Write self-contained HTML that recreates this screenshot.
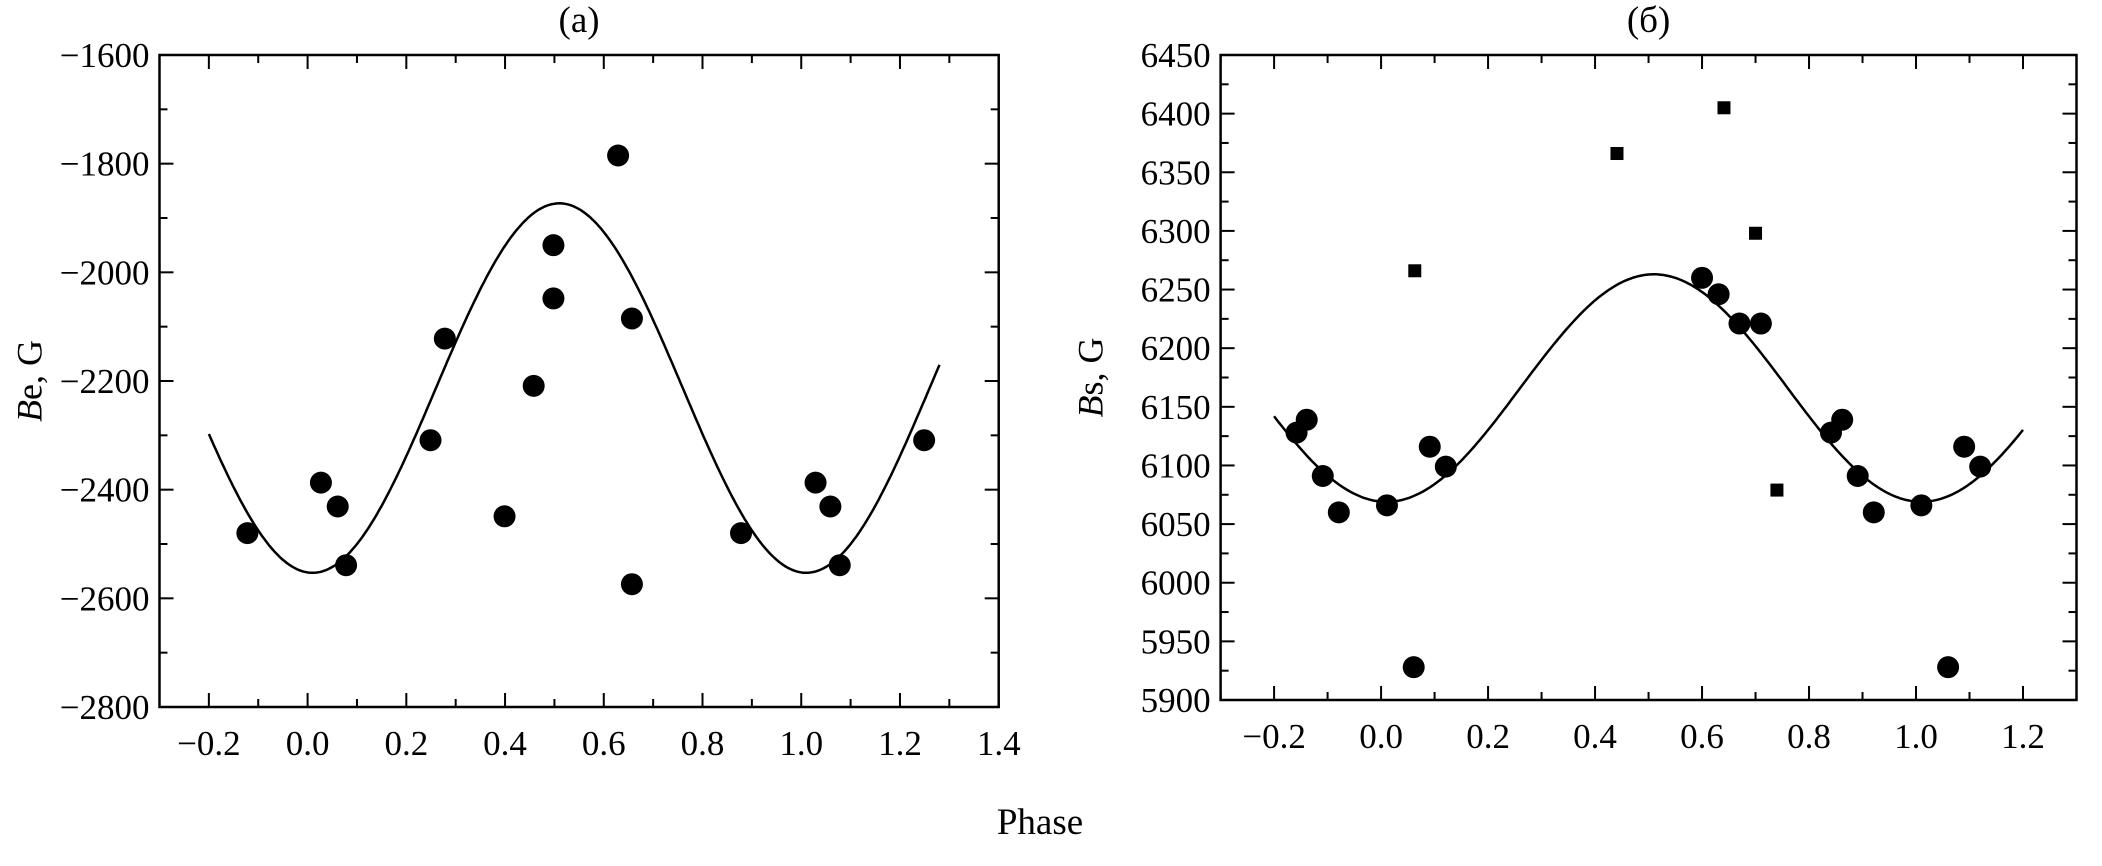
<!DOCTYPE html>
<html><head><meta charset="utf-8"><style>
body{margin:0;background:#fff;}
svg text{font-family:"Liberation Serif",serif;fill:#000;}
</style></head><body>
<svg id="fig" width="2102" height="861" viewBox="0 0 2102 861" xmlns="http://www.w3.org/2000/svg">
<text x="1040" y="834" font-size="37" text-anchor="middle">Phase</text>
</svg>
<script>
// Panel (a) data
const aPhase = [-0.122,0.027,0.061,0.078,0.249,0.278,0.399,0.458,0.498,0.498,0.629,0.657,0.657,0.878,1.029,1.059,1.078,1.249];
const aBe = [-2480,-2387,-2431,-2539,-2309,-2122,-2449,-2209,-1950,-2048,-1785,-2085,-2574,-2480,-2387,-2431,-2539,-2309];
const aFit = [-2213, 340, 0.01]; // mean, amplitude, phase of minimum
const aXTicks = [-0.2,0.0,0.2,0.4,0.6,0.8,1.0,1.2,1.4];
const aYTicks = [-1600,-1800,-2000,-2200,-2400,-2600,-2800];
// Panel (b) data
const bPhase = [-0.158,-0.139,-0.109,-0.079,0.011,0.061,0.091,0.121,0.600,0.631,0.670,0.710,0.841,0.862,0.891,0.921,1.010,1.060,1.090,1.120];
const bBs = [6128,6139,6091,6060,6066,5928,6116,6099,6260,6246,6221,6221,6128,6139,6091,6060,6066,5928,6116,6099];
const bSqPhase = [0.063,0.441,0.641,0.700,0.740];
const bSqBs = [6266,6366,6405,6298,6079];
const bFit = [6166, 97, 0.01];
const bXTicks = [-0.2,0.0,0.2,0.4,0.6,0.8,1.0,1.2];
const bYTicks = [6450,6400,6350,6300,6250,6200,6150,6100,6050,6000,5950,5900];

const NS="http://www.w3.org/2000/svg";
const svg=document.getElementById('fig');
function mk(tag,attrs,parent){const e=document.createElementNS(NS,tag);for(const k in attrs)e.setAttribute(k,attrs[k]);(parent||svg).appendChild(e);return e;}

function panel(o){
  const g=mk('g',{});
  
  
  const sx=v=>o.L+(v-o.x0)/(o.x1-o.x0)*(o.R-o.L);
  const sy=v=>o.B-(v-o.y0)/(o.y1-o.y0)*(o.B-o.T);
  const fr=mk('rect',{x:o.L,y:o.T,width:o.R-o.L,height:o.B-o.T,fill:'none',stroke:'#000','stroke-width':2.5},g);
  
  
  const t=mk('text',{x:(o.L+o.R)/2,y:32,'font-size':37,'text-anchor':'middle'},g);
  t.textContent=o.title;
  
  
  const xstep=o.xt[1]-o.xt[0];
  for(let v=o.xt[0]-xstep/2;v<=o.x1+1e-9;v+=xstep/2){
    if(v<o.x0-1e-9)continue;
    const maj=Math.abs(((v-o.xt[0])/xstep)-Math.round((v-o.xt[0])/xstep))<1e-6;
    const len=maj?14:8,x=sx(v);
    mk('line',{x1:x,x2:x,y1:o.B,y2:o.B-len,stroke:'#000','stroke-width':2},g);
    mk('line',{x1:x,x2:x,y1:o.T,y2:o.T+len,stroke:'#000','stroke-width':2},g);
  }
  o.xt.forEach(v=>{
    const l=mk('text',{x:sx(v),y:o.B+48,'font-size':35,'text-anchor':'middle'},g);
    l.textContent=(v<0?'\u2212':'')+Math.abs(v).toFixed(1);
    
    
  });
  const ystep=Math.abs(o.yt[1]-o.yt[0]);
  for(let v=o.y0;v<=o.y1+1e-9;v+=ystep/2){
    const maj=Math.abs(((v-o.y0)/ystep)-Math.round((v-o.y0)/ystep))<1e-6;
    const len=maj?14:8,y=sy(v);
    mk('line',{x1:o.L,x2:o.L+len,y1:y,y2:y,stroke:'#000','stroke-width':2},g);
    mk('line',{x1:o.R,x2:o.R-len,y1:y,y2:y,stroke:'#000','stroke-width':2},g);
  }
  o.yt.forEach(v=>{
    const l=mk('text',{x:o.L-10,y:sy(v)+12,'font-size':35,'text-anchor':'end'},g);
    l.textContent=(v<0?'\u2212':'')+Math.abs(v);
    
    
  });
  const yl=mk('text',{transform:`translate(${o.L-118},${(o.T+o.B)/2}) rotate(-90)`,'font-size':36,'text-anchor':'middle'},g);
  yl.innerHTML='<tspan font-style="italic">B</tspan>'+o.ylab;
  
  
  let d='';
  for(let i=0;i<=300;i++){
    const p=o.c0+(o.c1-o.c0)*i/300;
    const v=o.fit[0]-o.fit[1]*Math.cos(2*Math.PI*(p-o.fit[2]));
    d+=(i?'L':'M')+sx(p).toFixed(1)+','+sy(v).toFixed(1);
  }
  const c=mk('path',{d:d,fill:'none',stroke:'#000','stroke-width':2.5},g);
  
  
  o.px.forEach((p,i)=>{
    const e=mk('circle',{cx:sx(p),cy:sy(o.py[i]),r:11,fill:'#000'},g);
    
    
  });
  (o.sx||[]).forEach((p,i)=>{
    const e=mk('rect',{x:sx(p)-6.5,y:sy(o.sy[i])-6.5,width:13,height:13,fill:'#000'},g);
    
    
  });
}
panel({name:'panel-a',title:'(a)',ylab:'e, G',L:159.5,R:998.7,T:55,B:707,x0:-0.3,x1:1.4,y0:-2800,y1:-1600,
  xt:aXTicks,yt:aYTicks,fit:aFit,c0:-0.2,c1:1.28,px:aPhase,py:aBe});
panel({name:'panel-b',title:'(\u0431)',ylab:'s, G',L:1220.6,R:2076.5,T:55,B:700,x0:-0.3,x1:1.3,y0:5900,y1:6450,
  xt:bXTicks,yt:bYTicks,fit:bFit,c0:-0.2,c1:1.2,px:bPhase,py:bBs,sx:bSqPhase,sy:bSqBs});
</script>
</body></html>
